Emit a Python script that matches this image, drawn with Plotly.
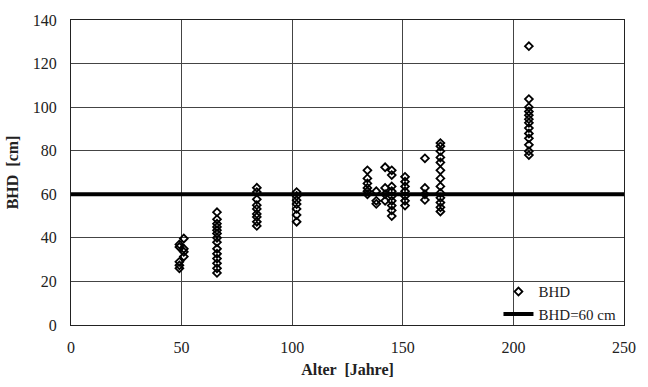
import plotly.graph_objects as go

# Data
age_groups = [49, 51, 66, 84, 102, 134, 138, 142, 145, 151, 160, 167, 207]
bhd_groups = [
    [37, 35.8, 29, 27.4, 26],
    [39.7, 35, 33.6, 31.4],
    [51.8, 48.5, 46.5, 45, 43.5, 42, 40, 38, 35, 32.7, 30.5, 28.3, 26, 23.9],
    [63, 61, 57.7, 55, 53.3, 51, 49.6, 47.4, 45.5],
    [61, 59.2, 57.3, 55.5, 53.3, 50.5, 47.4],
    [71, 67.3, 65, 62.9, 61.4, 60],
    [61.4, 57, 55.6],
    [72.4, 62.9, 60, 57],
    [71, 68.8, 63.6, 61.4, 59.2, 57, 54.8, 52.6, 50],
    [68, 65.8, 63.6, 61.4, 59.2, 57, 54.8],
    [76.5, 62.9, 60, 57.4],
    [83.5, 82, 79.8, 76.9, 74.6, 71, 67.3, 63.6, 60.6, 58.4, 56.2, 54, 52.1],
    [128, 103.7, 100, 98, 96.3, 94.5, 92.8, 90.4, 87.9, 85.7, 82.7, 79.8, 78],
]
ref_x = [0, 250]
ref_y = [60, 60]
x_ticks = [0, 50, 100, 150, 200, 250]
y_ticks = [0, 20, 40, 60, 80, 100, 120, 140]

ages = []
bhd = []
for a, vals in zip(age_groups, bhd_groups):
    for v in vals:
        ages.append(a)
        bhd.append(v)

FONT = "Liberation Serif, Times New Roman, serif"
FS = 16

fig = go.Figure()
fig.add_trace(go.Scatter(
    x=ref_x, y=ref_y, mode="lines", name="BHD=60 cm",
    line=dict(color="black", width=4), showlegend=True,
))
fig.add_trace(go.Scatter(
    x=ages, y=bhd, mode="markers", name="BHD",
    marker=dict(symbol="diamond-open", size=6, color="black",
                line=dict(color="black", width=1.8)),
))

# white box behind the legend that hides the gridlines (legend area)
fig.add_shape(type="rect", xref="paper", yref="paper",
              x0=0.768, x1=1.0, y0=0.0, y1=0.151,
              fillcolor="white", line=dict(width=0), layer="between")

fig.update_layout(
    width=648, height=387,
    margin=dict(l=70, r=14, t=17, b=53),
    paper_bgcolor="white", plot_bgcolor="white",
    font=dict(family=FONT, size=FS, color="#222"),
    legend=dict(
        x=0.773, y=0.163, xanchor="left", yanchor="top",
        bgcolor="rgba(0,0,0,0)", borderwidth=0, traceorder="reversed",
        font=dict(family=FONT, size=15, color="#222"),
        itemwidth=30, tracegroupgap=0,
    ),
    xaxis=dict(
        range=[0, 250], tickvals=x_ticks, showgrid=True,
        gridcolor="#444", gridwidth=1, zeroline=False,
        showline=True, linecolor="#222", linewidth=1, mirror=True,
        ticks="", ticklabelstandoff=8,
        title=dict(text="<b>Alter  [Jahre]</b>", standoff=8,
                   font=dict(family=FONT, size=FS, color="#222")),
    ),
    yaxis=dict(
        range=[0, 140], tickvals=y_ticks, showgrid=True,
        gridcolor="#444", gridwidth=1, zeroline=False,
        showline=True, linecolor="#222", linewidth=1, mirror=True,
        ticks="", ticklabelstandoff=10,
        title=dict(text="<b>BHD  [cm]</b>", standoff=10,
                   font=dict(family=FONT, size=FS, color="#222")),
    ),
)

fig.write_html("out.html")
